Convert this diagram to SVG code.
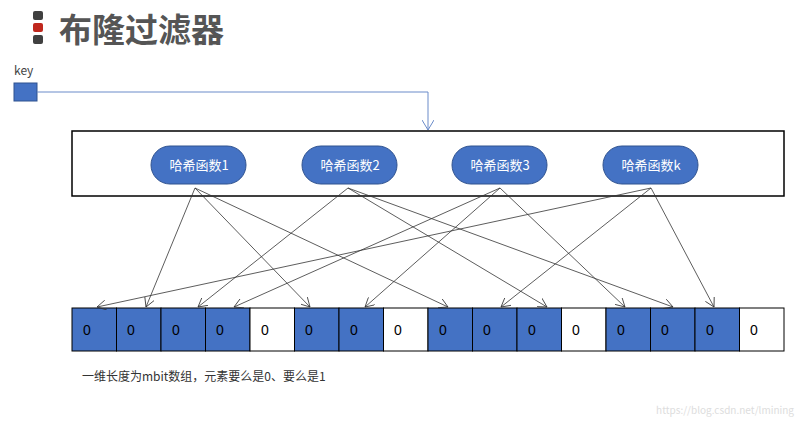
<svg xmlns="http://www.w3.org/2000/svg" width="800" height="422" viewBox="0 0 800 422">
<defs>
<marker id="ah" markerWidth="10" markerHeight="10" refX="9" refY="5" orient="auto" markerUnits="userSpaceOnUse"><path d="M0,0 L9,5 L0,10" fill="none" stroke="#333" stroke-width="0.8"/></marker>
<marker id="ahb" markerWidth="12" markerHeight="12" refX="10" refY="6" orient="auto" markerUnits="userSpaceOnUse"><path d="M0,0 L10,6 L0,12" fill="none" stroke="#6a8bc9" stroke-width="1"/></marker>
<style>
text{font-family:"Noto Sans CJK SC","Liberation Sans",sans-serif}
.pill{fill:#4472c4;stroke:#2f528f;stroke-width:1}
.pt{fill:#fff;font-size:13px;text-anchor:middle}
.on{fill:#4472c4;stroke:#000;stroke-width:1}
.off{fill:#fff;stroke:#000;stroke-width:1}
.ct{font-family:"Liberation Sans",sans-serif;font-size:14px;fill:#000}
.ar{stroke:#333;stroke-width:0.8;fill:none;marker-end:url(#ah)}
</style>
</defs>
<rect width="800" height="422" fill="#fff"/>
<g id="title">
<rect x="33" y="11" width="10" height="9" rx="2" fill="#404040"/>
<rect x="33" y="23" width="10" height="9" rx="2" fill="#c0281e"/>
<rect x="33" y="35" width="10" height="9" rx="2" fill="#404040"/>
<text x="59" y="42" font-size="33" font-weight="bold" fill="#555">布隆过滤器</text>
</g>
<g id="key">
<text x="14" y="75" font-size="12" fill="#444">key</text>
<rect x="14" y="83" width="23" height="18" fill="#4472c4" stroke="#2f528f"/>
</g>
<g id="box"><rect x="72" y="131" width="712" height="65" fill="#fff" stroke="#000" stroke-width="1.5"/></g>
<g id="h1"><rect class="pill" x="151" y="146" width="95" height="38" rx="19"/><text class="pt" x="199" y="170">哈希函数1</text></g>
<g id="h2"><rect class="pill" x="302" y="146" width="95" height="38" rx="19"/><text class="pt" x="350" y="170">哈希函数2</text></g>
<g id="h3"><rect class="pill" x="452" y="146" width="95" height="38" rx="19"/><text class="pt" x="500" y="170">哈希函数3</text></g>
<g id="hk"><rect class="pill" x="603" y="146" width="95" height="38" rx="19"/><text class="pt" x="651" y="170">哈希函数k</text></g>
<g id="array">
<rect class="on" x="72" y="308" width="44.5" height="43"/>
<rect class="on" x="116.5" y="308" width="44.5" height="43"/>
<rect class="on" x="161" y="308" width="44.5" height="43"/>
<rect class="on" x="205.5" y="308" width="44.5" height="43"/>
<rect class="off" x="250" y="308" width="44.5" height="43"/>
<rect class="on" x="294.5" y="308" width="44.5" height="43"/>
<rect class="on" x="339" y="308" width="44.5" height="43"/>
<rect class="off" x="383.5" y="308" width="44.5" height="43"/>
<rect class="on" x="428" y="308" width="44.5" height="43"/>
<rect class="on" x="472.5" y="308" width="44.5" height="43"/>
<rect class="on" x="517" y="308" width="44.5" height="43"/>
<rect class="off" x="561.5" y="308" width="44.5" height="43"/>
<rect class="on" x="606" y="308" width="44.5" height="43"/>
<rect class="on" x="650.5" y="308" width="44.5" height="43"/>
<rect class="on" x="695" y="308" width="44.5" height="43"/>
<rect class="off" x="739.5" y="308" width="44.5" height="43"/>
<text class="ct" x="83" y="335">0</text><text class="ct" x="127" y="335">0</text><text class="ct" x="172" y="335">0</text><text class="ct" x="216" y="335">0</text>
<text class="ct" x="261" y="335">0</text><text class="ct" x="305" y="335">0</text><text class="ct" x="350" y="335">0</text><text class="ct" x="394" y="335">0</text>
<text class="ct" x="439" y="335">0</text><text class="ct" x="483" y="335">0</text><text class="ct" x="528" y="335">0</text><text class="ct" x="572" y="335">0</text>
<text class="ct" x="617" y="335">0</text><text class="ct" x="661" y="335">0</text><text class="ct" x="706" y="335">0</text><text class="ct" x="750" y="335">0</text>
</g>
<text x="82" y="381" font-size="12" fill="#333">一维长度为mbit数组，元素要么是0、要么是1</text>
<text x="794" y="414" font-size="10" fill="#ddd" text-anchor="end" font-family="Liberation Sans,sans-serif">https://blog.csdn.net/lmining</text>
<g id="connectors">
<polyline points="37,92 428,92 428,130" fill="none" stroke="#6a8bc9" stroke-width="1" marker-end="url(#ahb)"/>
<line class="ar" x1="195" y1="188" x2="146" y2="307"/>
<line class="ar" x1="195" y1="188" x2="310" y2="307"/>
<line class="ar" x1="195" y1="188" x2="448" y2="307"/>
<line class="ar" x1="348" y1="188" x2="198" y2="307"/>
<line class="ar" x1="348" y1="188" x2="547" y2="307"/>
<line class="ar" x1="348" y1="188" x2="673" y2="307"/>
<line class="ar" x1="500" y1="188" x2="234" y2="307"/>
<line class="ar" x1="500" y1="188" x2="365" y2="307"/>
<line class="ar" x1="500" y1="188" x2="625" y2="307"/>
<line class="ar" x1="651" y1="188" x2="97" y2="307"/>
<line class="ar" x1="651" y1="188" x2="501" y2="307"/>
<line class="ar" x1="651" y1="188" x2="714" y2="307"/>
</g>
</svg>
